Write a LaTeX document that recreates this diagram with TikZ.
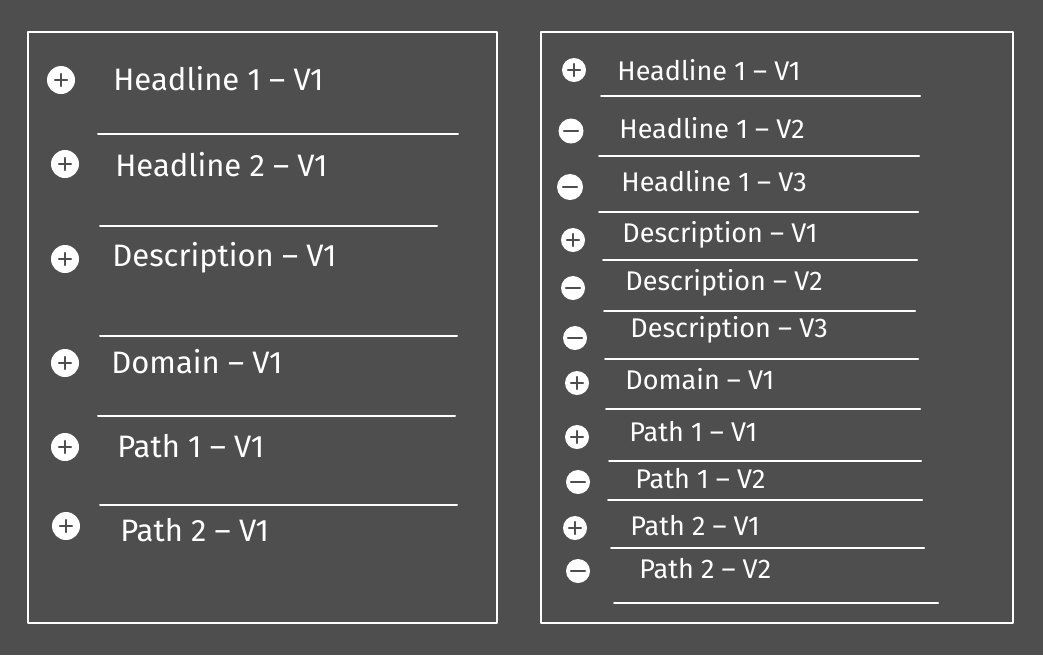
\documentclass[tikz,border=0pt]{standalone}
\usepackage{fontspec}
\setmainfont{Fira Sans}
\definecolor{board}{HTML}{4E4E4E}
\tikzset{
	sign/.style={circle,fill=white,inner sep=0pt,minimum size=#1},
	addbtn/.style={sign=#1,path picture={\draw[board,line width=1.2pt]
		([xshift=-3pt]path picture bounding box.center)--([xshift=3pt]path picture bounding box.center)
		([yshift=-3pt]path picture bounding box.center)--([yshift=3pt]path picture bounding box.center);}},
	delbtn/.style={sign=#1,path picture={\draw[board,line width=1.2pt]
		([xshift=-3.5pt]path picture bounding box.center)--([xshift=3.5pt]path picture bounding box.center);}},
	bigtxt/.style={anchor=west,text=white,inner sep=0pt,font=\fontsize{15.5}{18}\selectfont},
	smalltxt/.style={anchor=west,text=white,inner sep=0pt,font=\fontsize{13.5}{16}\selectfont},
	rule/.style={white,line width=1pt}
}
\begin{document}
\begin{tikzpicture}[line cap=round,line join=round,x=0.5pt,y=-0.5pt]
	\fill[board] (0,0) rectangle (1043,655);
	\useasboundingbox (0,0) rectangle (1043,655);
	% two sheets
	\draw[rule] (28,32) rectangle (497,623);
	\draw[rule] (541,32) rectangle (1013,623);
	% left sheet
	\node[addbtn=14pt] (la1) at (61,80) {};
	\node[bigtxt] (lt1) at (113,79) {Headline 1 -- V1};
	\draw[rule] (98,134)-- (458,134);
	\node[addbtn=14pt] (la2) at (65,164) {};
	\node[bigtxt] (lt2) at (115,165) {Headline 2 -- V1};
	\draw[rule] (100,226)-- (437,226);
	\node[addbtn=14pt] (la3) at (65,259) {};
	\node[bigtxt] (lt3) at (112,258) {Description -- V1};
	\draw[rule] (100,336)-- (457,336);
	\node[addbtn=14pt] (la4) at (65,363) {};
	\node[bigtxt] (lt4) at (111,362) {Domain -- V1};
	\draw[rule] (98,416)-- (455,416);
	\node[addbtn=14pt] (la5) at (65,447) {};
	\node[bigtxt] (lt5) at (117,446) {Path 1 -- V1};
	\draw[rule] (100,505)-- (457,505);
	\node[addbtn=14pt] (la6) at (66,526) {};
	\node[bigtxt] (lt6) at (120,530) {Path 2 -- V1};
	% right sheet
	\node[addbtn=12pt] (ra1) at (574,70) {};
	\node[smalltxt] (rt1) at (617,70) {Headline 1 -- V1};
	\draw[rule] (601,96)-- (920,96);
	\node[delbtn=12.5pt] (ra2) at (571,131) {};
	\node[smalltxt] (rt2) at (619,128) {Headline 1 -- V2};
	\draw[rule] (599,156)-- (919,156);
	\node[delbtn=13pt] (ra3) at (570,187) {};
	\node[smalltxt] (rt3) at (621,181) {Headline 1 -- V3};
	\draw[rule] (599,212)-- (918,212);
	\node[addbtn=12pt] (ra4) at (573,240) {};
	\node[smalltxt] (rt4) at (622,235) {Description -- V1};
	\draw[rule] (603,260)-- (917,260);
	\node[delbtn=12pt] (ra5) at (573,288) {};
	\node[smalltxt] (rt5) at (625,283) {Description -- V2};
	\draw[rule] (604,311)-- (915,311);
	\node[delbtn=12pt] (ra6) at (575,338) {};
	\node[smalltxt] (rt6) at (630,330) {Description -- V3};
	\draw[rule] (605,359)-- (918,359);
	\node[addbtn=12pt] (ra7) at (577,383) {};
	\node[smalltxt] (rt7) at (625,379) {Domain -- V1};
	\draw[rule] (606,409)-- (920,409);
	\node[addbtn=12pt] (ra8) at (577,437) {};
	\node[smalltxt] (rt8) at (629,432) {Path 1 -- V1};
	\draw[rule] (609,461)-- (921,461);
	\node[delbtn=12pt] (ra9) at (578,482) {};
	\node[smalltxt] (rt9) at (635,479) {Path 1 -- V2};
	\draw[rule] (608,500)-- (922,500);
	\node[addbtn=12pt] (ra10) at (575,528) {};
	\node[smalltxt] (rt10) at (630,526) {Path 2 -- V1};
	\draw[rule] (611,548)-- (924,548);
	\node[delbtn=12pt] (ra11) at (578,571) {};
	\node[smalltxt] (rt11) at (639,569) {Path 2 -- V2};
	\draw[rule] (614,603)-- (938,603);
\end{tikzpicture}
\end{document}
